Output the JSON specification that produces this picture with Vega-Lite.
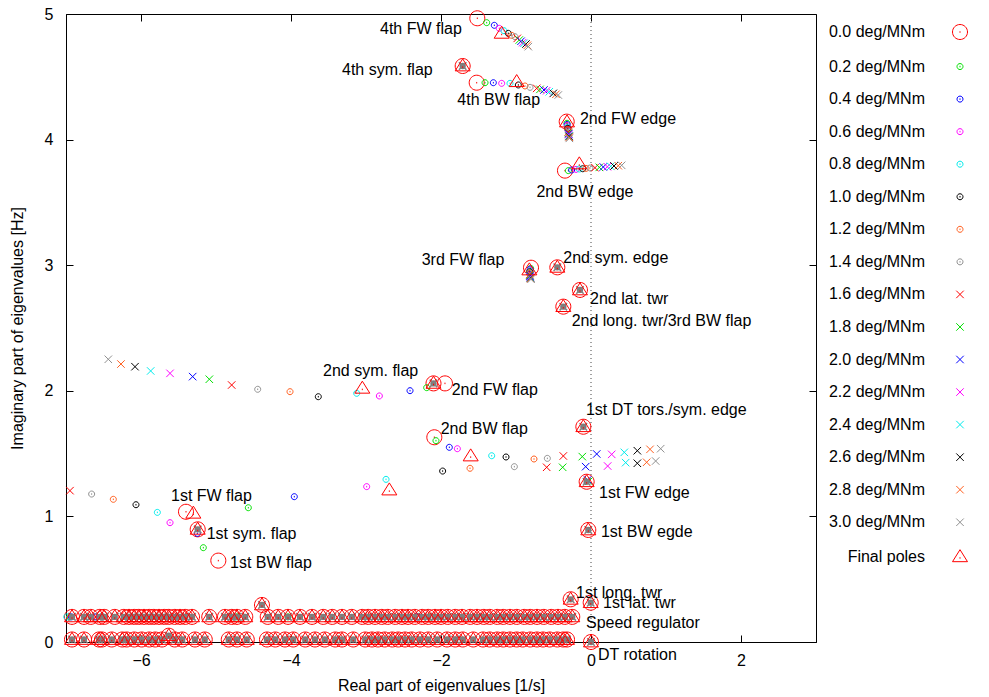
{
  "$schema": "https://vega.github.io/schema/vega-lite/v6.json",
  "width": 750,
  "height": 628,
  "autosize": {"type": "none"},
  "padding": {"left": 66, "top": 14, "right": 173, "bottom": 55},
  "background": "white",
  "config": {
    "view": {"stroke": "black", "strokeWidth": 1},
    "font": "Liberation Sans",
    "axis": {"grid": false, "domainColor": "black", "tickColor": "black", "labelFont": "Liberation Sans", "labelFontSize": 16, "labelColor": "black", "titleFont": "Liberation Sans", "titleFontSize": 16, "titleFontWeight": "normal", "titleColor": "black", "tickSize": -7},
    "legend": {"orient": "none", "legendX": 886, "legendY": 10, "labelAlign": "right", "labelOffset": -43, "rowPadding": 16.55, "labelFontSize": 16, "labelFont": "Liberation Sans", "labelColor": "black", "symbolStrokeWidth": 1, "labelLimit": 0}
  },
  "datasets": {
    "mv": [
      {"s":"0.0","x":-1.516,"y":4.966},{"s":"0.2","x":-1.391,"y":4.931},{"s":"0.4","x":-1.289,"y":4.91},{"s":"0.6","x":-1.223,"y":4.886},{"s":"0.8","x":-1.16,"y":4.867},{"s":"1.0","x":-1.103,"y":4.846},{"s":"1.2","x":-1.057,"y":4.83},{"s":"1.4","x":-1.013,"y":4.819},{"s":"1.6","x":-0.983,"y":4.806},{"s":"1.8","x":-0.956,"y":4.793},{"s":"2.0","x":-0.933,"y":4.783},{"s":"2.2","x":-0.911,"y":4.772},{"s":"2.4","x":-0.893,"y":4.767},{"s":"2.6","x":-0.867,"y":4.761},{"s":"2.8","x":-0.849,"y":4.751},{"s":"3.0","x":-0.836,"y":4.74},{"s":"Final poles","x":-1.191,"y":4.846},
      {"s":"0.0","x":-1.524,"y":4.453},{"s":"0.2","x":-1.413,"y":4.453},{"s":"0.4","x":-1.302,"y":4.453},{"s":"0.6","x":-1.191,"y":4.448},{"s":"0.8","x":-1.08,"y":4.448},{"s":"1.0","x":-0.969,"y":4.435},{"s":"1.2","x":-0.88,"y":4.427},{"s":"1.4","x":-0.813,"y":4.416},{"s":"1.6","x":-0.724,"y":4.408},{"s":"1.8","x":-0.68,"y":4.4},{"s":"2.0","x":-0.627,"y":4.395},{"s":"2.2","x":-0.591,"y":4.389},{"s":"2.4","x":-0.556,"y":4.381},{"s":"2.6","x":-0.503,"y":4.368},{"s":"2.8","x":-0.467,"y":4.361},{"s":"3.0","x":-0.436,"y":4.355},{"s":"Final poles","x":-0.991,"y":4.461},
      {"s":"0.0","x":-0.324,"y":4.143},{"s":"0.2","x":-0.32,"y":4.13},{"s":"0.4","x":-0.318,"y":4.12},{"s":"0.6","x":-0.315,"y":4.11},{"s":"0.8","x":-0.313,"y":4.1},{"s":"1.0","x":-0.31,"y":4.09},{"s":"1.2","x":-0.308,"y":4.08},{"s":"1.4","x":-0.305,"y":4.07},{"s":"1.6","x":-0.303,"y":4.06},{"s":"1.8","x":-0.3,"y":4.05},{"s":"2.0","x":-0.298,"y":4.045},{"s":"2.2","x":-0.296,"y":4.04},{"s":"2.4","x":-0.294,"y":4.03},{"s":"2.6","x":-0.292,"y":4.025},{"s":"2.8","x":-0.29,"y":4.018},{"s":"3.0","x":-0.289,"y":4.01},{"s":"Final poles","x":-0.32,"y":4.14},
      {"s":"0.0","x":-0.347,"y":3.753},{"s":"0.2","x":-0.302,"y":3.753},{"s":"0.4","x":-0.258,"y":3.758},{"s":"0.6","x":-0.2,"y":3.763},{"s":"0.8","x":-0.156,"y":3.766},{"s":"1.0","x":-0.111,"y":3.768},{"s":"1.2","x":-0.067,"y":3.771},{"s":"1.4","x":-0.013,"y":3.774},{"s":"1.6","x":0.053,"y":3.776},{"s":"1.8","x":0.111,"y":3.779},{"s":"2.0","x":0.164,"y":3.782},{"s":"2.2","x":0.218,"y":3.784},{"s":"2.4","x":0.262,"y":3.787},{"s":"2.6","x":0.307,"y":3.79},{"s":"2.8","x":0.364,"y":3.792},{"s":"3.0","x":0.409,"y":3.795},{"s":"Final poles","x":-0.156,"y":3.806},
      {"s":"0.0","x":-0.8,"y":2.98},{"s":"0.2","x":-0.805,"y":2.975},{"s":"0.4","x":-0.81,"y":2.968},{"s":"0.6","x":-0.812,"y":2.962},{"s":"0.8","x":-0.815,"y":2.955},{"s":"1.0","x":-0.817,"y":2.948},{"s":"1.2","x":-0.818,"y":2.94},{"s":"1.4","x":-0.818,"y":2.933},{"s":"1.6","x":-0.817,"y":2.926},{"s":"1.8","x":-0.815,"y":2.919},{"s":"2.0","x":-0.813,"y":2.913},{"s":"2.2","x":-0.811,"y":2.907},{"s":"2.4","x":-0.809,"y":2.902},{"s":"2.6","x":-0.807,"y":2.897},{"s":"2.8","x":-0.805,"y":2.893},{"s":"3.0","x":-0.8,"y":2.888},{"s":"Final poles","x":-0.822,"y":2.962},
      {"s":"0.0","x":-1.947,"y":2.059},{"s":"0.2","x":-2.191,"y":2.025},{"s":"0.4","x":-2.413,"y":2.001},{"s":"0.6","x":-2.822,"y":1.959},{"s":"0.8","x":-3.124,"y":1.98},{"s":"1.0","x":-3.636,"y":1.953},{"s":"1.2","x":-4.013,"y":1.993},{"s":"1.4","x":-4.444,"y":2.012},{"s":"1.6","x":-4.791,"y":2.046},{"s":"1.8","x":-5.089,"y":2.092},{"s":"2.0","x":-5.311,"y":2.113},{"s":"2.2","x":-5.613,"y":2.139},{"s":"2.4","x":-5.871,"y":2.158},{"s":"2.6","x":-6.08,"y":2.192},{"s":"2.8","x":-6.267,"y":2.213},{"s":"3.0","x":-6.436,"y":2.251},{"s":"Final poles","x":-3.049,"y":2.02},
      {"s":"0.0","x":-2.089,"y":1.63},{"s":"0.2","x":-2.067,"y":1.603},{"s":"0.4","x":-1.889,"y":1.55},{"s":"0.6","x":-1.782,"y":1.539},{"s":"0.8","x":-1.324,"y":1.483},{"s":"1.0","x":-1.133,"y":1.473},{"s":"1.2","x":-0.76,"y":1.457},{"s":"1.4","x":-0.582,"y":1.462},{"s":"1.6","x":-0.369,"y":1.481},{"s":"1.8","x":-0.116,"y":1.476},{"s":"2.0","x":0.076,"y":1.497},{"s":"2.2","x":0.276,"y":1.494},{"s":"2.4","x":0.444,"y":1.51},{"s":"2.6","x":0.618,"y":1.523},{"s":"2.8","x":0.787,"y":1.534},{"s":"3.0","x":0.929,"y":1.539},{"s":"Final poles","x":-1.604,"y":1.481},
      {"s":"0.0","x":-5.4,"y":1.037},{"s":"0.2","x":-4.569,"y":1.069},{"s":"0.4","x":-3.956,"y":1.157},{"s":"0.6","x":-2.991,"y":1.237},{"s":"0.8","x":-2.733,"y":1.295},{"s":"1.0","x":-1.978,"y":1.361},{"s":"1.2","x":-1.613,"y":1.383},{"s":"1.4","x":-1.022,"y":1.396},{"s":"1.6","x":-0.591,"y":1.391},{"s":"1.8","x":-0.378,"y":1.391},{"s":"2.0","x":-0.071,"y":1.396},{"s":"2.2","x":0.222,"y":1.401},{"s":"2.4","x":0.462,"y":1.428},{"s":"2.6","x":0.618,"y":1.423},{"s":"2.8","x":0.742,"y":1.431},{"s":"3.0","x":0.862,"y":1.441},{"s":"Final poles","x":-2.689,"y":1.21},
      {"s":"0.0","x":-4.969,"y":0.648},{"s":"0.2","x":-5.169,"y":0.751},{"s":"0.4","x":-5.249,"y":0.865},{"s":"0.6","x":-5.613,"y":0.95},{"s":"0.8","x":-5.782,"y":1.032},{"s":"1.0","x":-6.067,"y":1.093},{"s":"1.2","x":-6.369,"y":1.136},{"s":"1.4","x":-6.658,"y":1.178},{"s":"1.6","x":-6.947,"y":1.205},{"s":"Final poles","x":-5.302,"y":1.025},
      {"s":"0.8","x":-6.99,"y":0.2},{"s":"0.2","x":-6.95,"y":0.2},{"s":"0.4","x":-6.93,"y":0.2},{"s":"0.4","x":-6.6,"y":0.2},{"s":"0.2","x":-4.72,"y":0.2},{"s":"0.2","x":-4.04,"y":0.2},{"s":"0.4","x":-2.32,"y":0.2},{"s":"0.2","x":-2.14,"y":0.2},{"s":"1.8","x":-0.03,"y":1.28},{"s":"2.0","x":-0.045,"y":1.29}
    ],
    "st": [
      {"x":-1.711,"y":4.586},{"x":-0.449,"y":2.983},{"x":-0.147,"y":2.803},{"x":-0.369,"y":2.67},{"x":-2.1,"y":2.059},{"x":-0.102,"y":1.714},{"x":-0.058,"y":1.276},{"x":-0.036,"y":0.892},{"x":-5.244,"y":0.897},{"x":-0.271,"y":0.34},{"x":-0.004,"y":0.313},{"x":-4.387,"y":0.295},{"x":0,"y":0},{"x":-5.63,"y":0.05},
      {"x":-6.92,"y":0.2},{"x":-6.76,"y":0.2},{"x":-6.67,"y":0.2},{"x":-6.55,"y":0.2},{"x":-6.49,"y":0.2},{"x":-6.35,"y":0.2},{"x":-6.23,"y":0.2},{"x":-6.16,"y":0.2},{"x":-6.09,"y":0.2},{"x":-6.03,"y":0.2},{"x":-5.96,"y":0.2},{"x":-5.89,"y":0.2},{"x":-5.83,"y":0.2},{"x":-5.76,"y":0.2},{"x":-5.69,"y":0.2},{"x":-5.63,"y":0.2},{"x":-5.55,"y":0.2},{"x":-5.48,"y":0.2},{"x":-5.41,"y":0.2},{"x":-5.32,"y":0.2},{"x":-5.09,"y":0.2},{"x":-4.88,"y":0.2},{"x":-4.79,"y":0.2},{"x":-4.72,"y":0.2},{"x":-4.61,"y":0.2},{"x":-4.31,"y":0.2},{"x":-4.17,"y":0.2},{"x":-4.04,"y":0.2},{"x":-3.88,"y":0.2},{"x":-3.72,"y":0.2},{"x":-3.57,"y":0.2},{"x":-3.45,"y":0.2},{"x":-3.32,"y":0.2},{"x":-3.19,"y":0.2},{"x":-3.05,"y":0.2},{"x":-2.97,"y":0.2},{"x":-2.88,"y":0.2},{"x":-2.79,"y":0.2},{"x":-2.71,"y":0.2},{"x":-2.61,"y":0.2},{"x":-2.52,"y":0.2},{"x":-2.44,"y":0.2},{"x":-2.35,"y":0.2},{"x":-2.25,"y":0.2},{"x":-2.17,"y":0.2},{"x":-2.08,"y":0.2},{"x":-2.0,"y":0.2},{"x":-1.91,"y":0.2},{"x":-1.81,"y":0.2},{"x":-1.72,"y":0.2},{"x":-1.61,"y":0.2},{"x":-1.52,"y":0.2},{"x":-1.43,"y":0.2},{"x":-1.35,"y":0.2},{"x":-1.25,"y":0.2},{"x":-1.17,"y":0.2},{"x":-1.08,"y":0.2},{"x":-0.99,"y":0.2},{"x":-0.89,"y":0.2},{"x":-0.81,"y":0.2},{"x":-0.72,"y":0.2},{"x":-0.63,"y":0.2},{"x":-0.53,"y":0.2},{"x":-0.44,"y":0.2},{"x":-0.35,"y":0.2},{"x":-0.25,"y":0.2},
      {"x":-6.92,"y":0.02},{"x":-6.76,"y":0.02},{"x":-6.56,"y":0.02},{"x":-6.52,"y":0.02},{"x":-6.39,"y":0.02},{"x":-6.25,"y":0.02},{"x":-6.19,"y":0.02},{"x":-6.09,"y":0.02},{"x":-5.99,"y":0.02},{"x":-5.89,"y":0.02},{"x":-5.81,"y":0.02},{"x":-5.72,"y":0.02},{"x":-5.55,"y":0.02},{"x":-5.45,"y":0.02},{"x":-5.28,"y":0.02},{"x":-5.15,"y":0.02},{"x":-4.83,"y":0.02},{"x":-4.72,"y":0.02},{"x":-4.59,"y":0.02},{"x":-4.32,"y":0.02},{"x":-4.21,"y":0.02},{"x":-4.08,"y":0.02},{"x":-3.97,"y":0.02},{"x":-3.81,"y":0.02},{"x":-3.68,"y":0.02},{"x":-3.55,"y":0.02},{"x":-3.41,"y":0.02},{"x":-3.32,"y":0.02},{"x":-3.17,"y":0.02},{"x":-3.01,"y":0.02},{"x":-2.92,"y":0.02},{"x":-2.84,"y":0.02},{"x":-2.75,"y":0.02},{"x":-2.65,"y":0.02},{"x":-2.57,"y":0.02},{"x":-2.48,"y":0.02},{"x":-2.39,"y":0.02},{"x":-2.28,"y":0.02},{"x":-2.17,"y":0.02},{"x":-2.05,"y":0.02},{"x":-1.92,"y":0.02},{"x":-1.81,"y":0.02},{"x":-1.71,"y":0.02},{"x":-1.57,"y":0.02},{"x":-1.44,"y":0.02},{"x":-1.35,"y":0.02},{"x":-1.25,"y":0.02},{"x":-1.17,"y":0.02},{"x":-1.08,"y":0.02},{"x":-0.99,"y":0.02},{"x":-0.91,"y":0.02},{"x":-0.81,"y":0.02},{"x":-0.72,"y":0.02},{"x":-0.64,"y":0.02},{"x":-0.55,"y":0.02},{"x":-0.45,"y":0.02},{"x":-0.37,"y":0.02},{"x":-0.32,"y":0.02}
    ],
    "lb": [
      {"t":"4th FW flap","x":-2.813,"y":4.884},
      {"t":"4th sym. flap","x":-3.32,"y":4.554},
      {"t":"4th BW flap","x":-1.782,"y":4.312},
      {"t":"2nd FW edge","x":-0.147,"y":4.163},
      {"t":"2nd BW edge","x":-0.727,"y":3.58},
      {"t":"3rd FW flap","x":-2.258,"y":3.045},
      {"t":"2nd sym. edge","x":-0.369,"y":3.06},
      {"t":"2nd lat. twr","x":-0.013,"y":2.733},
      {"t":"2nd long. twr/3rd BW flap","x":-0.258,"y":2.557},
      {"t":"2nd sym. flap","x":-3.573,"y":2.155},
      {"t":"2nd FW flap","x":-1.858,"y":2.003},
      {"t":"1st DT tors./sym. edge","x":-0.067,"y":1.847},
      {"t":"2nd BW flap","x":-2.004,"y":1.692},
      {"t":"1st FW flap","x":-5.6,"y":1.16},
      {"t":"1st FW edge","x":0.107,"y":1.187},
      {"t":"1st sym. flap","x":-5.124,"y":0.862},
      {"t":"1st BW egde","x":0.133,"y":0.876},
      {"t":"1st BW flap","x":-4.813,"y":0.63},
      {"t":"1st long. twr","x":-0.2,"y":0.39},
      {"t":"1st lat. twr","x":0.16,"y":0.31},
      {"t":"Speed regulator","x":-0.067,"y":0.151},
      {"t":"DT rotation","x":0.093,"y":-0.103}
    ]
  },
  "resolve": {"axis": {"x": "independent", "y": "independent"}},
  "layer": [
    {
      "data": {"values": [{"z": 0}]},
      "mark": {"type": "rule", "strokeDash": [1, 3], "color": "#444444", "strokeWidth": 1},
      "encoding": {"x": {"datum": 0, "type": "quantitative", "axis": null}}
    },
    {
      "data": {"name": "st"},
      "mark": {"type": "point", "filled": false, "opacity": 1, "strokeWidth": 1, "color": "#ff0000", "size": 225, "shape": "M-1,0A1,1,0,1,1,1,0A1,1,0,1,1,-1,0ZM0,-0.1L0,0.1"},
      "encoding": {
        "x": {"field": "x", "type": "quantitative", "axis": null},
        "y": {"field": "y", "type": "quantitative", "axis": null}
      }
    },
    {
      "data": {"name": "mv"},
      "mark": {"type": "point", "filled": false, "opacity": 1, "strokeWidth": 1},
      "encoding": {
        "x": {"field": "x", "type": "quantitative", "scale": {"domain": [-7, 3], "nice": false, "zero": false},
              "axis": {"orient": "bottom", "values": [-6, -4, -2, 0, 2], "title": "Real part of eigenvalues [1/s]", "labelPadding": 17, "titlePadding": 9}},
        "y": {"field": "y", "type": "quantitative", "scale": {"domain": [0, 5], "nice": false, "zero": false},
              "axis": {"orient": "left", "values": [0, 1, 2, 3, 4, 5], "title": "Imaginary part of eigenvalues [Hz]", "labelPadding": 20, "titlePadding": 19}},
        "order": {"field": "s", "type": "nominal"},
        "color": {"field": "s", "type": "nominal",
          "scale": {"domain": ["0.0","0.2","0.4","0.6","0.8","1.0","1.2","1.4","1.6","1.8","2.0","2.2","2.4","2.6","2.8","3.0","Final poles"],
                    "range": ["#ff0000","#00e000","#0000ff","#ff00ff","#00ecec","#000000","#ff6020","#909090","#ff0000","#00e000","#0000ff","#ff00ff","#00ecec","#000000","#ff6020","#909090","#ff0000"]},
          "legend": {"title": null, "labelExpr": "datum.label == 'Final poles' ? datum.label : datum.label + ' deg/MNm'"}},
        "shape": {"field": "s", "type": "nominal",
          "scale": {"domain": ["0.0","0.2","0.4","0.6","0.8","1.0","1.2","1.4","1.6","1.8","2.0","2.2","2.4","2.6","2.8","3.0","Final poles"],
                    "range": ["M-1,0A1,1,0,1,1,1,0A1,1,0,1,1,-1,0ZM0,-0.1L0,0.1",
                              "M-1,0A1,1,0,1,1,1,0A1,1,0,1,1,-1,0ZM0,-0.25L0,0.25","M-1,0A1,1,0,1,1,1,0A1,1,0,1,1,-1,0ZM0,-0.25L0,0.25","M-1,0A1,1,0,1,1,1,0A1,1,0,1,1,-1,0ZM0,-0.25L0,0.25","M-1,0A1,1,0,1,1,1,0A1,1,0,1,1,-1,0ZM0,-0.25L0,0.25","M-1,0A1,1,0,1,1,1,0A1,1,0,1,1,-1,0ZM0,-0.25L0,0.25","M-1,0A1,1,0,1,1,1,0A1,1,0,1,1,-1,0ZM0,-0.25L0,0.25","M-1,0A1,1,0,1,1,1,0A1,1,0,1,1,-1,0ZM0,-0.25L0,0.25",
                              "M-1,-1L1,1M-1,1L1,-1","M-1,-1L1,1M-1,1L1,-1","M-1,-1L1,1M-1,1L1,-1","M-1,-1L1,1M-1,1L1,-1","M-1,-1L1,1M-1,1L1,-1","M-1,-1L1,1M-1,1L1,-1","M-1,-1L1,1M-1,1L1,-1","M-1,-1L1,1M-1,1L1,-1",
                              "M0,-0.95L1,0.65L-1,0.65ZM0,0.05L0,0.25"]},
          "legend": {"title": null, "labelExpr": "datum.label == 'Final poles' ? datum.label : datum.label + ' deg/MNm'"}},
        "size": {"field": "s", "type": "nominal",
          "scale": {"type": "ordinal", "domain": ["0.0","0.2","0.4","0.6","0.8","1.0","1.2","1.4","1.6","1.8","2.0","2.2","2.4","2.6","2.8","3.0","Final poles"],
                    "range": [225,36,36,36,36,36,36,36,56,56,56,56,56,56,56,56,225]},
          "legend": {"title": null, "labelExpr": "datum.label == 'Final poles' ? datum.label : datum.label + ' deg/MNm'"}}
      }
    },
    {
      "data": {"name": "st"},
      "mark": {"type": "point", "filled": true, "opacity": 1, "color": "#7c7c7c", "size": 40, "shape": "circle"},
      "encoding": {
        "x": {"field": "x", "type": "quantitative", "axis": null},
        "y": {"field": "y", "type": "quantitative", "axis": null}
      }
    },
    {
      "data": {"name": "st"},
      "mark": {"type": "point", "filled": false, "opacity": 1, "strokeWidth": 1.5, "color": "#808080", "size": 56, "shape": "M-1,-1L1,1M-1,1L1,-1"},
      "encoding": {
        "x": {"field": "x", "type": "quantitative", "axis": null},
        "y": {"field": "y", "type": "quantitative", "axis": null}
      }
    },
    {
      "data": {"name": "st"},
      "mark": {"type": "point", "filled": false, "opacity": 1, "strokeWidth": 1, "color": "#ff0000", "size": 225, "shape": "M0,-0.95L1,0.65L-1,0.65ZM0,0.05L0,0.25"},
      "encoding": {
        "x": {"field": "x", "type": "quantitative", "axis": {"orient": "top", "values": [-6, -4, -2, 0, 2], "labels": false, "domain": false, "title": null}},
        "y": {"field": "y", "type": "quantitative", "axis": {"orient": "right", "values": [0, 1, 2, 3, 4, 5], "labels": false, "domain": false, "title": null}}
      }
    },
    {
      "data": {"name": "lb"},
      "mark": {"type": "text", "align": "left", "baseline": "middle", "font": "Liberation Sans", "fontSize": 16, "color": "black"},
      "encoding": {
        "x": {"field": "x", "type": "quantitative", "axis": null},
        "y": {"field": "y", "type": "quantitative", "axis": null},
        "text": {"field": "t"}
      }
    }
  ]
}
